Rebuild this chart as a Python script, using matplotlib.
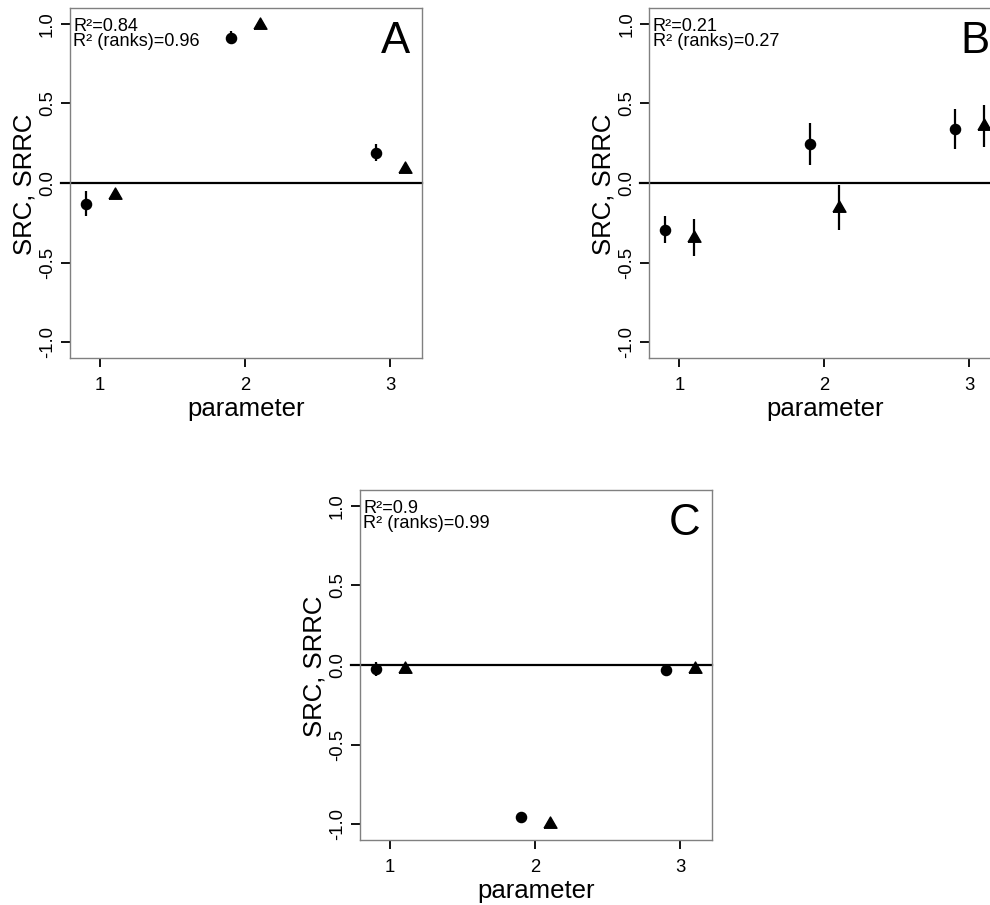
import matplotlib
matplotlib.use("Agg")
import matplotlib.pyplot as plt
import numpy as np

plt.rcParams["font.family"] = ["Liberation Sans", "DejaVu Sans"]

# Parameter indices and the panel data (SRC = circles, SRRC = triangles)
params = [1, 2, 3]
panels = ["A", "B", "C"]

src_A = [-0.13, 0.914, 0.19]
src_err_A = [0.08, 0.042, 0.053]
srrc_A = [-0.075, 0.99, 0.09]
srrc_err_A = [0.02, 0.0, 0.0]
r2_A = "0.84"
r2rank_A = "0.96"

src_B = [-0.295, 0.245, 0.34]
src_err_B = [0.085, 0.13, 0.125]
srrc_B = [-0.343, -0.155, 0.36]
srrc_err_B = [0.117, 0.14, 0.132]
r2_B = "0.21"
r2rank_B = "0.27"

src_C = [-0.025, -0.953, -0.031]
src_err_C = [0.045, 0.0, 0.04]
srrc_C = [-0.025, -1.0, -0.025]
srrc_err_C = [0.0, 0.0, 0.0]
r2_C = "0.9"
r2rank_C = "0.99"

y_ticks = [-1.0, -0.5, 0.0, 0.5, 1.0]
y_ticklabels = ["-1.0", "-0.5", "0.0", "0.5", "1.0"]

data = {
    "A": (src_A, src_err_A, srrc_A, srrc_err_A, r2_A, r2rank_A),
    "B": (src_B, src_err_B, srrc_B, srrc_err_B, r2_B, r2rank_B),
    "C": (src_C, src_err_C, srrc_C, srrc_err_C, r2_C, r2rank_C),
}

W, H = 990, 905
fig = plt.figure(figsize=(W / 100, H / 100), dpi=100)

# axes rectangles in pixels: left, top, width, height
rects = {
    "A": (70, 8, 351.7, 350),
    "B": (649.3, 8, 351.7, 350),
    "C": (360, 490, 351.7, 350),
}

# equilateral triangle centred on its centroid
tri = [(-1.0, -0.577), (1.0, -0.577), (0.0, 1.155), (-1.0, -0.577)]
spine_col = "#808080"
offset = 0.1

for name in panels:
    l, t, w, h = rects[name]
    ax = fig.add_axes([l / W, 1 - (t + h) / H, w / W, h / H])
    src, src_err, srrc, srrc_err, r2, r2rank = data[name]
    x = np.array(params, dtype=float)

    ax.axhline(0, xmin=-0.026, xmax=1.0, color="black", lw=1.6, clip_on=False, zorder=1)

    ax.errorbar(x - offset, src, yerr=src_err, fmt="o", color="black",
                ms=7.3, elinewidth=1.6, capsize=0, zorder=3)
    ax.errorbar(x + offset, srrc, yerr=srrc_err, fmt="none", ecolor="black",
                elinewidth=1.6, capsize=0, zorder=3)
    ax.plot(x + offset, srrc, linestyle="none", marker=tri, color="black",
            ms=10.8, zorder=4)

    ax.set_xlim(0.793, 3.218)
    ax.set_ylim(-1.1, 1.1)
    ax.set_xticks(params)
    ax.set_xticklabels([str(p) for p in params])
    ax.set_yticks(y_ticks)
    ax.set_yticklabels(y_ticklabels, rotation=90, va="center")
    ax.tick_params(axis="both", direction="out", length=6.5, width=1.3,
                   color="black", labelsize=13.3)
    ax.tick_params(axis="x", pad=7)
    ax.tick_params(axis="y", pad=3.5)
    for s in ax.spines.values():
        s.set_color(spine_col)
        s.set_linewidth(1.0)

    ax.text(-0.109, 0.497, "SRC, SRRC", transform=ax.transAxes, rotation=90,
            rotation_mode="anchor", ha="center", va="baseline", fontsize=18.5)
    ax.text(0.5, -0.167, "parameter", transform=ax.transAxes,
            ha="center", va="baseline", fontsize=18.5)

    ax.text(0.0095, 0.935, "R\u00b2=" + r2, transform=ax.transAxes,
            ha="left", va="baseline", fontsize=13.1)
    ax.text(0.0095, 0.892, "R\u00b2 (ranks)=" + r2rank, transform=ax.transAxes,
            ha="left", va="baseline", fontsize=13.1)

    ax.text(0.967, 0.871, name, transform=ax.transAxes,
            ha="right", va="baseline", fontsize=31.5)

fig.savefig("out.png", dpi=100)
